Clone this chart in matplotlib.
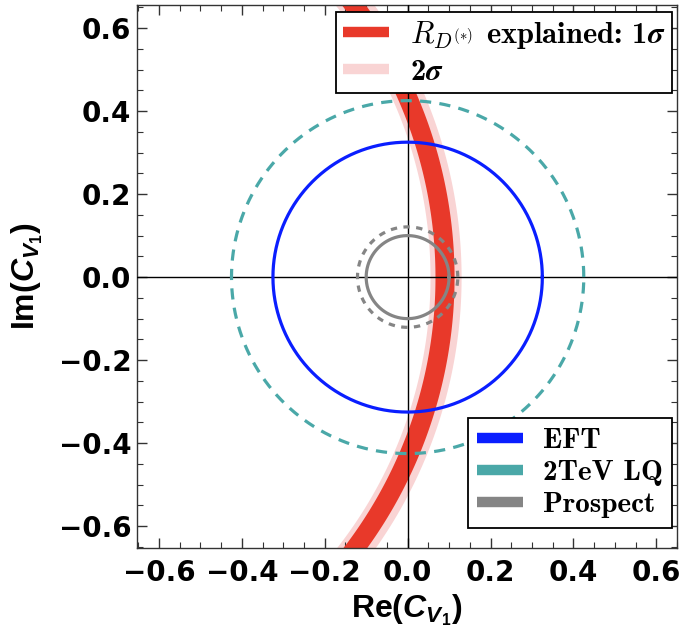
import numpy as np
import matplotlib
matplotlib.use("Agg")
import matplotlib.pyplot as plt
from matplotlib.lines import Line2D

# ---- data ----
band_center = -1.0                 # |1 + C_V1| = r  -> circle centred at (-1, 0)
band_1sigma = [1.066, 1.112]       # radii of the 1 sigma band
band_2sigma = [1.054, 1.129]       # radii of the 2 sigma band
eft_radius = 0.325
lq_radius = 0.425
prospect_radius = 0.100
prospect_dashed_radius = 0.121
ticks = [-0.6, -0.4, -0.2, 0.0, 0.2, 0.4, 0.6]
tick_labels = ["\u22120.6", "\u22120.4", "\u22120.2", "0.0", "0.2", "0.4", "0.6"]

RED = "#e8392a"
PINK = "#f9d4d4"
BLUE = "#0a1eff"
TEAL = "#4aa8a8"
GRAY = "#858585"

plt.rcParams["mathtext.fontset"] = "custom"
plt.rcParams["mathtext.rm"] = "Liberation Sans:bold"
plt.rcParams["mathtext.bf"] = "Liberation Sans:bold"
plt.rcParams["mathtext.it"] = "Liberation Sans:bold:italic"
plt.rcParams["mathtext.bfit"] = "Liberation Sans:bold:italic"

fig = plt.figure(figsize=(6.84, 6.43), dpi=100)
ax = fig.add_axes([0.2003, 0.148, 0.7895, 0.844])

y = np.linspace(-0.7, 0.7, 600)

def band_x(r):
    return band_center + np.sqrt(r ** 2 - y ** 2)

ax.fill_betweenx(y, band_x(band_2sigma[0]), band_x(band_2sigma[1]), color=PINK, lw=0, zorder=1)
ax.fill_betweenx(y, band_x(band_1sigma[0]), band_x(band_1sigma[1]), color=RED, lw=0, zorder=2)

ax.axhline(0, color="black", lw=1.0, zorder=3)
ax.axvline(0, color="black", lw=1.0, zorder=3)

t = np.linspace(0, 2 * np.pi, 721)
def circ(r, **kw):
    ax.plot(r * np.cos(t), r * np.sin(t), **kw)

circ(eft_radius, color=BLUE, lw=2.3, zorder=4)
circ(lq_radius, color=TEAL, lw=2.3, ls=(0, (3.5, 2.6)), zorder=4)
circ(prospect_radius, color=GRAY, lw=2.3, zorder=4)
circ(prospect_dashed_radius, color=GRAY, lw=2.3, ls=(0, (2.0, 2.0)), zorder=4)

ax.set_xlim(-0.653, 0.645)
ax.set_ylim(-0.652, 0.655)
ax.set_xticks(ticks)
ax.set_yticks(ticks)
ax.set_xticklabels(tick_labels)
ax.set_yticklabels(tick_labels)
ax.set_xticks(np.arange(-0.65, 0.651, 0.05), minor=True)
ax.set_yticks(np.arange(-0.65, 0.651, 0.05), minor=True)
ax.tick_params(which="both", direction="in", top=True, right=True, color="#333333")
ax.tick_params(which="major", length=7, width=1.0)
ax.tick_params(axis="x", which="major", pad=8)
ax.tick_params(axis="y", which="major", pad=4)
ax.tick_params(which="minor", length=4, width=0.8)
for lab in ax.get_xticklabels() + ax.get_yticklabels():
    lab.set_fontfamily("DejaVu Sans")
    lab.set_fontweight("bold")
    lab.set_fontsize(20)
for s in ax.spines.values():
    s.set_color("#333333")
    s.set_linewidth(1.0)

xl = ax.set_xlabel(r"Re$(\boldsymbol{C}_{\boldsymbol{V}_{\mathbf{1}}})$", fontsize=23,
                   fontfamily="Liberation Sans", fontweight="bold", labelpad=4)
yl = ax.set_ylabel(r"Im$(\boldsymbol{C}_{\boldsymbol{V}_{\mathbf{1}}})$", fontsize=23,
                   fontfamily="Liberation Sans", fontweight="bold", labelpad=10)
for lab in (xl, yl):
    lab.set_math_fontfamily("custom")

# legend 1
h1 = [Line2D([], [], color=RED, lw=7.5, solid_capstyle="butt"),
      Line2D([], [], color=PINK, lw=7.5, solid_capstyle="butt")]
l1 = [r"$R_{D^{(*)}}$ explained: 1$\boldsymbol{\sigma}$", r"2$\boldsymbol{\sigma}$"]
leg1 = ax.legend(h1, l1, loc="upper right", bbox_to_anchor=(0.991, 0.987), borderaxespad=0,
                 fancybox=False, framealpha=1, edgecolor="black", handlelength=1.5,
                 prop={"family": "cmb10", "size": 22}, borderpad=0.22, labelspacing=0.25,
                 handletextpad=0.7)
leg1.get_frame().set_linewidth(1.3)
for txt in leg1.get_texts():
    txt.set_math_fontfamily("cm")
ax.add_artist(leg1)

h2 = [Line2D([], [], color=BLUE, lw=7.5, solid_capstyle="butt"),
      Line2D([], [], color=TEAL, lw=7.5, solid_capstyle="butt"),
      Line2D([], [], color=GRAY, lw=7.5, solid_capstyle="butt")]
l2 = ["EFT", "2TeV LQ", "Prospect"]
leg2 = ax.legend(h2, l2, loc="lower right", bbox_to_anchor=(0.991, 0.037), borderaxespad=0,
                 fancybox=False, framealpha=1, edgecolor="black", handlelength=1.55,
                 prop={"family": "cmb10", "size": 21}, borderpad=0.32, labelspacing=0.2,
                 handletextpad=0.7)
leg2.get_frame().set_linewidth(1.3)
leg1.set_zorder(10)
leg2.set_zorder(10)

fig.savefig("out.png", dpi=100)
